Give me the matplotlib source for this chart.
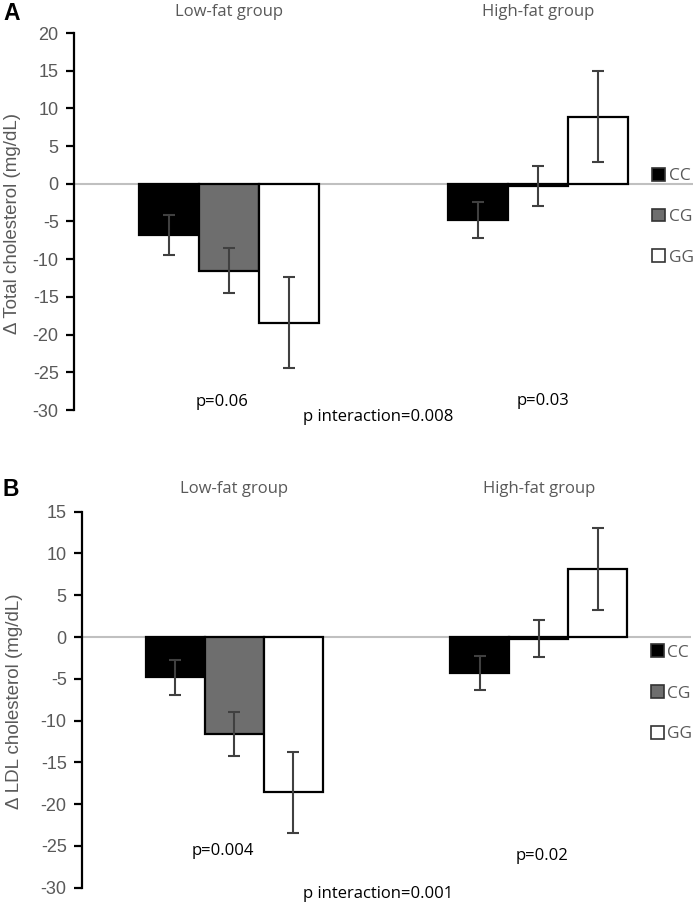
import matplotlib.pyplot as plt
import numpy as np
from matplotlib.patches import Patch

plt.rcParams['axes.unicode_minus'] = False

# data
groups = ['Low-fat group', 'High-fat group']
genotypes = ['CC', 'CG', 'GG']
colors = ['#000000', '#6e6e6e', '#ffffff']

# panel A: change in total cholesterol
tc_mean = {'CC': [-6.8, -4.8], 'CG': [-11.5, -0.3], 'GG': [-18.4, 8.9]}
tc_err = {'CC': [2.7, 2.4], 'CG': [3.0, 2.7], 'GG': [6.0, 6.0]}
tc_p = ['p=0.06', 'p=0.03']
tc_inter = 'p interaction=0.008'

# panel B: change in LDL cholesterol
ldl_mean = {'CC': [-4.8, -4.3], 'CG': [-11.6, -0.2], 'GG': [-18.6, 8.1]}
ldl_err = {'CC': [2.1, 2.0], 'CG': [2.65, 2.2], 'GG': [4.9, 4.9]}
ldl_p = ['p=0.004', 'p=0.02']
ldl_inter = 'p interaction=0.001'

tick_font = 'Liberation Sans'
lab_font = 'Open Sans'
gray_txt = '#595959'

W, H = 695, 905
fig = plt.figure(figsize=(W / 100, H / 100), dpi=100)


def draw_panel(rect, means, errs, ylim, ticks, ylabel, ylab_xy, pvals, p_xy, inter, inter_xy,
               letter, letter_xy, title_y, leg_y):
    ax = fig.add_axes(rect)
    x = np.arange(len(groups))
    w = 0.194
    for i, g in enumerate(genotypes):
        ax.bar(x + (i - 1) * w, means[g], width=w, color=colors[i],
               edgecolor='black', linewidth=1.6, zorder=3)
        ax.errorbar(x + (i - 1) * w, means[g], yerr=errs[g], fmt='none',
                    ecolor='#404040', elinewidth=1.5, capsize=4.5, capthick=1.5, zorder=4)
    ax.axhline(0, color='#c0c0c0', linewidth=1.5, zorder=2)
    ax.set_xlim(-0.5, 1.5)
    ax.set_ylim(*ylim)
    ax.set_yticks(ticks)
    ax.set_xticks([])
    for s in ['top', 'right', 'bottom']:
        ax.spines[s].set_visible(False)
    ax.spines['left'].set_linewidth(1.6)
    ax.tick_params(axis='y', length=6, width=1.6, colors='black', labelcolor=gray_txt,
                   labelsize=13, pad=5)
    for t in ax.get_yticklabels():
        t.set_fontfamily(tick_font)
    fig.text(ylab_xy[0] / W, 1 - ylab_xy[1] / H, ylabel, rotation=90, ha='center', va='center',
             fontsize=13.5, color=gray_txt, family=tick_font)
    for j, g in enumerate(groups):
        ax.text(j, title_y, g, transform=ax.get_xaxis_transform(), ha='center', va='center',
                fontsize=12, color=gray_txt, family=lab_font)
        ax.text(p_xy[j][0], p_xy[j][1], pvals[j], ha='center', va='center', fontsize=12,
                family=lab_font, color='black')
    ax.text(inter_xy[0], inter_xy[1], inter, ha='center', va='center', fontsize=12,
            family=lab_font, color='black')
    fig.text(letter_xy[0] / W, 1 - letter_xy[1] / H, letter, fontsize=16.5, fontweight='bold',
             family=tick_font, ha='left', va='center')
    handles = [Patch(facecolor=c, edgecolor='#333333', linewidth=1.2) for c in colors]
    ax.legend(handles, genotypes, loc='upper left', bbox_to_anchor=(0.934, leg_y), frameon=False,
              handlelength=0.75, handleheight=0.75, handletextpad=0.2, labelspacing=1.4,
              prop={'family': lab_font, 'size': 12.5}, labelcolor=gray_txt, borderaxespad=0,
              borderpad=0)
    return ax


draw_panel([74 / W, 1 - 410 / H, 619 / W, 377 / H], tc_mean, tc_err, (-30, 20),
           np.arange(-30, 21, 5), 'Δ Total cholesterol (mg/dL)', (13, 223),
           tc_p, [(-0.02, -29.0), (1.015, -28.8)], tc_inter, (0.482, -30.9),
           'A', (3, 13), 1.056, 0.642)

draw_panel([82 / W, 1 - 887.7 / H, 609 / W, 376 / H], ldl_mean, ldl_err, (-30, 15),
           np.arange(-30, 16, 5), 'Δ LDL cholesterol (mg/dL)', (15, 701),
           ldl_p, [(-0.037, -25.6), (1.01, -26.2)], ldl_inter, (0.472, -30.8),
           'B', (3, 489), 1.06, 0.647)

fig.savefig('out.png', dpi=100)
